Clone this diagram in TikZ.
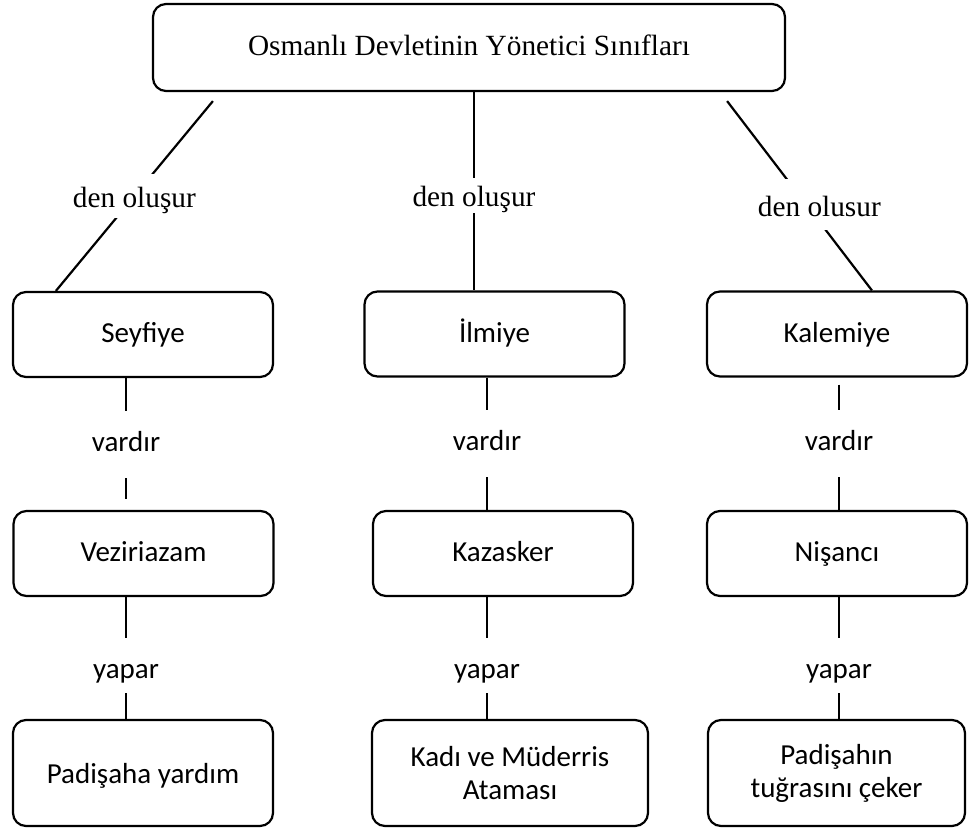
\documentclass[tikz,border=0pt]{standalone}
\usepackage{fontspec}
\setmainfont{Liberation Serif}
\newfontfamily\calibri{Carlito}
\usetikzlibrary{calc}

\tikzset{
  kutu/.style={draw, line width=2.2pt, rounded corners=13pt, align=center, inner sep=0pt,
    minimum width=260pt, minimum height=85pt, font=\calibri\fontsize{29}{37}\selectfont},
  tek/.style={text height=21pt, text depth=5pt},
  baslik/.style={kutu, tek, minimum width=632pt, minimum height=87pt, font=\fontsize{29.3}{34}\selectfont},
  bag/.style={line width=2.2pt},
  iliski/.style={fill=white, inner xsep=2pt, inner ysep=0pt, text height=24pt, text depth=1pt,
    font=\fontsize{29.3}{34}\selectfont},
  fiil/.style={fill=white, inner xsep=2pt, inner ysep=0pt, text height=21pt, text depth=7pt,
    font=\calibri\fontsize{29}{34}\selectfont},
  yap/.style={fiil, pos=0.56, text height=33pt, minimum height=55pt}
}

\begin{document}
\begin{tikzpicture}[x=1pt, y=-1pt]
    \useasboundingbox (0,0) rectangle (969,829);
    % ust kutu
    \node[baslik] (title) at (469,47.5) {Osmanlı Devletinin Yönetici Sınıfları};
    % siniflar
    \node[kutu, tek] (sey) at (143,334.5) {Seyfiye};
    \node[kutu, tek] (ilm) at (494.5,334) {İlmiye};
    \node[kutu, tek] (kal) at (837,334) {Kalemiye};
    \node[kutu, tek] (vez) at (143.5,553.5) {Veziriazam};
    \node[kutu, tek] (kaz) at (503,553.5) {Kazasker};
    \node[kutu, tek] (nis) at (837,553.5) {Nişancı};
    \node[kutu, tek, minimum height=106pt, text depth=-6pt] (pad) at (143,773) {Padişaha yardım};
    \node[kutu, minimum height=106pt, minimum width=276pt] (kadi) at (510,773) {\raisebox{-4pt}{Kadı ve Müderris}\\Ataması};
    \node[kutu, minimum height=106pt, minimum width=257pt] (tug) at (836.5,773) {\raisebox{-4pt}{Padişahın}\\tuğrasını çeker};
    % baglantilar
    \coordinate (m) at ($(title.south)+(5,0)$);
    \coordinate (c1) at (126,0);
    \coordinate (c2) at (487,0);
    \coordinate (c3) at (839,0);
    \draw[bag] ($(title.south west)+(61,9)$) -- node[iliski, minimum height=44pt] (o1) {den oluşur} ($(sey.north west)+(44,0)$);
    \draw[bag] (m) -- node[iliski, pos=0.52, minimum height=35pt] (o2) {den oluşur} (m |- ilm.north);
    \draw[bag] ($(title.south east)+(-59,9)$) -- node[iliski, pos=0.547, xshift=13pt, minimum height=51pt] (o3) {den olusur} ($(kal.north west)+(166,0)$);
    \draw[bag, shorten >=11pt] (sey.south -| c1) -- node[fiil, minimum height=67pt] (v1) {vardır} (vez.north -| c1);
    \draw[bag] (ilm.south -| c2) -- node[fiil, minimum height=67pt] (v2) {vardır} (kaz.north -| c2);
    \draw[bag, shorten <=7pt] (kal.south -| c3) -- node[fiil, minimum height=67pt] (v3) {vardır} (nis.north -| c3);
    \draw[bag] (vez.south -| c1) -- node[yap] (y1) {yapar} (pad.north -| c1);
    \draw[bag] (kaz.south -| c2) -- node[yap] (y2) {yapar} (kadi.north -| c2);
    \draw[bag] (nis.south -| c3) -- node[yap] (y3) {yapar} (tug.north -| c3);
\end{tikzpicture}
\end{document}
